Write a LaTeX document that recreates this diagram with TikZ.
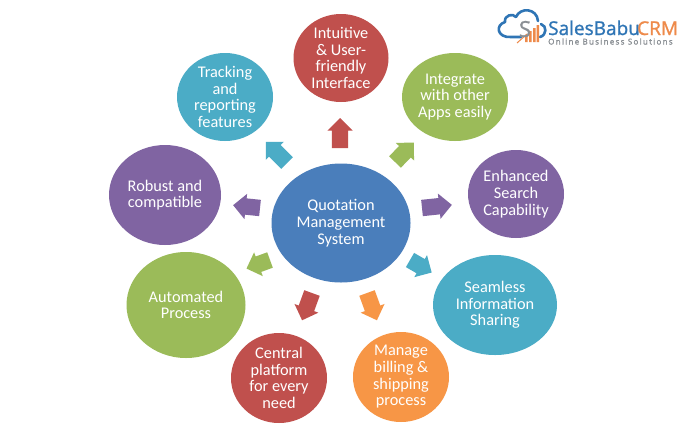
\documentclass[tikz,border=0pt]{standalone}
\usepackage{fontspec}
\setmainfont{Carlito}
\newfontfamily\logofont[FakeBold=1.2]{Open Sans}
\newfontfamily\tagfont[LetterSpace=16,FakeBold=1.5]{Open Sans}
\usetikzlibrary{shapes.geometric,shapes.arrows}
\definecolor{cred}{HTML}{C0504D}
\definecolor{cgreen}{HTML}{9BBB59}
\definecolor{cpurple}{HTML}{8064A2}
\definecolor{caqua}{HTML}{4BACC6}
\definecolor{corange}{HTML}{F79646}
\definecolor{cblue}{HTML}{4A7EBB}
\definecolor{logoblue}{HTML}{2F75B5}
\definecolor{logoorange}{HTML}{EE8A4A}
\definecolor{loggray}{HTML}{8A8F94}
\tikzset{
  bubble/.style={ellipse,fill=#1,inner sep=0pt,text=white,align=center,font=\fontsize{16.3}{16.7}\selectfont},
  blockarrow/.style={single arrow,fill=#1,inner xsep=0pt,inner ysep=8pt,outer sep=0pt,minimum width=25pt,single arrow head extend=4.5pt,single arrow head indent=0pt,anchor=tail},
  logotext/.style={inner sep=0pt,anchor=base west}
}
\newcommand{\bub}[7]{\node[bubble=#1,minimum width=#4pt,minimum height=#5pt] (#6) at (#2,#3) {#7};}
\newcommand{\arw}[6]{\node[blockarrow=#1,minimum height=#5pt,rotate=#4] (#6) at (#2,#3) {};}
\begin{document}
\begin{tikzpicture}[x=1pt,y=-1pt]
\useasboundingbox (0,0) rectangle (700,437);
\fill[white] (0,0) rectangle (700,437);
\bub{cblue}{341}{223}{139}{119}{center}{Quotation\\Management\\System}
\bub{cred}{341}{58}{95}{88}{ui}{Intuitive\\\&~User-\\friendly\\Interface}
\bub{cgreen}{455}{97}{106}{88}{apps}{Integrate\\with other\\Apps easily}
\bub{cpurple}{516}{194}{96}{88}{search}{Enhanced\\Search\\Capability}
\bub{caqua}{495}{305}{124}{100}{share}{Seamless\\Information\\Sharing}
\bub{corange}{401}{377}{96}{90}{billing}{Manage\\billing \&\\shipping\\process}
\bub{cred}{279}{378}{96}{90}{platform}{Central\\platform\\for every\\need}
\bub{cgreen}{186}{305}{119}{106}{auto}{Automated\\Process}
\bub{cpurple}{165}{195}{112}{100}{robust}{Robust and\\compatible}
\bub{caqua}{225}{97}{96}{88}{track}{Tracking\\and\\reporting\\features}
\arw{cred}{340}{148}{90}{30}{a1}
\arw{cgreen}{395}{162}{46}{27}{a2}
\arw{cpurple}{422}{208}{6}{30}{a3}
\arw{caqua}{410}{260}{-30}{25}{a4}
\arw{corange}{367}{293}{-70}{29}{a5}
\arw{cred}{312}{293}{250}{29}{a6}
\arw{cgreen}{270}{260}{200}{25}{a7}
\arw{cpurple}{260}{208}{174}{27}{a8}
\arw{caqua}{287}{163}{135}{30}{a9}
% logo
\draw[logoblue,line width=2.6pt,line cap=round,line join=round]
  (521,37) -- (511,37) .. controls (497,38) and (495,25) .. (505,22)
  .. controls (504,15) and (513,13) .. (516,17)
  .. controls (520,7) and (537,8) .. (538,21);
\draw[logoblue,line width=2.6pt,line cap=round] (541,24) .. controls (547,26) and (547,35) .. (540,37);
\draw[logoorange,line width=1pt] (517,43) -- (527,34);
\fill[logoorange] (525,36) rectangle (527.5,42) (529,31) rectangle (531.5,42) (533,28) rectangle (535.5,42) (536.5,25) rectangle (539,42);
\node[inner sep=0pt,text=loggray,font=\logofont\fontsize{22}{22}\selectfont] (logos) at (525,29) {S};
\node[logotext,text=logoblue,font=\logofont\fontsize{19}{19}\selectfont] (sb) at (548,35) {SalesBabu};
\node[logotext,text=logoorange,font=\logofont\fontsize{19}{19}\selectfont] (crm) at (637,35) {CRM};
\node[logotext,text=loggray,font=\tagfont\fontsize{8}{8}\selectfont] (tag) at (548,44.5) {Online Business Solutions};
\end{tikzpicture}
\end{document}
